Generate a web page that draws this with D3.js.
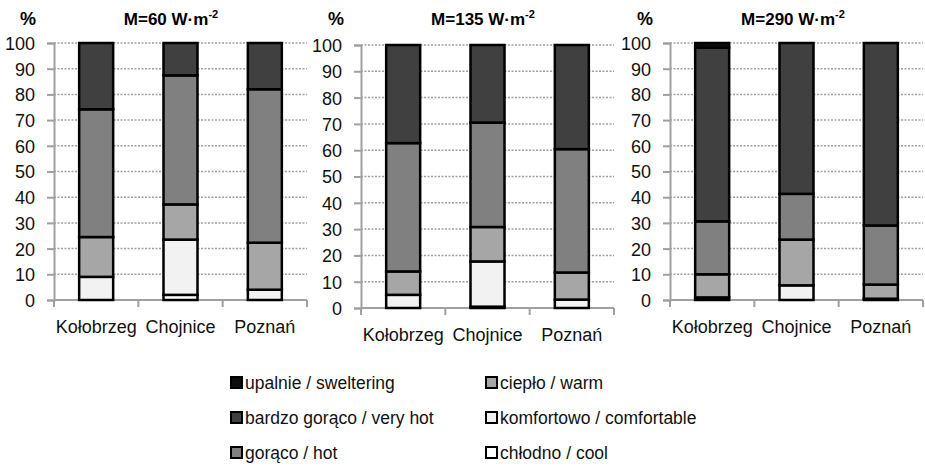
<!DOCTYPE html>
<html>
<head>
<meta charset="utf-8">
<title>Thermal sensation classes</title>
<script src="https://cdnjs.cloudflare.com/ajax/libs/d3/7.8.5/d3.min.js"></script>
<style>
  body { margin: 0; background: #fff; }
  svg { display: block; font-family: "Liberation Sans", Arial, sans-serif; }
</style>
</head>
<body>
<svg id="chart" width="925" height="470"></svg>
<script>
// stations (x categories)
var categories = ['Kołobrzeg', 'Chojnice', 'Poznań'];
// metabolic rate of each panel
var panelTitles = ['60', '135', '290'];
var yTicks = [0, 10, 20, 30, 40, 50, 60, 70, 80, 90, 100];

// share of each class in %, [panel][station], bottom to top
var cool        = [[0, 2, 0],        [0, 0.5, 0],        [0, 0, 0]];
var comfortable = [[9, 21.5, 4],     [5, 17.2, 3.2],     [1, 5.7, 0.5]];
var warm        = [[15.5, 13.7, 18.3], [8.9, 13.1, 10.3], [9, 17.8, 5.5]];
var hot         = [[49.7, 50.2, 59.7], [48.8, 39.7, 46.9], [20.6, 17.8, 23]];
var veryHot     = [[25.8, 12.6, 18], [37.3, 29.5, 39.6], [67.6, 58.7, 71]];
var sweltering  = [[0, 0, 0],        [0, 0, 0],          [1.8, 0, 0]];

var seriesKeys = ['cool', 'comfortable', 'warm', 'hot', 'veryHot', 'sweltering'];
var seriesData = { cool: cool, comfortable: comfortable, warm: warm, hot: hot, veryHot: veryHot, sweltering: sweltering };
var seriesLabels = {
    sweltering: 'upalnie / sweltering',
    veryHot: 'bardzo gorąco / very hot',
    hot: 'gorąco / hot',
    warm: 'ciepło / warm',
    comfortable: 'komfortowo / comfortable',
    cool: 'chłodno / cool'
};
var colour = d3.scaleOrdinal()
    .domain(seriesKeys)
    .range(['#ffffff', '#f2f2f2', '#a6a6a6', '#808080', '#404040', '#0d0d0d']);

var svg = d3.select('#chart');

// plot area of every panel
var panels = [
    { left: 54,  right: 307, bottom: 300, top: 43, titleX: 171, pctX: 28 },
    { left: 361, right: 614, bottom: 308, top: 45, titleX: 483, pctX: 336 },
    { left: 670, right: 923, bottom: 300, top: 43, titleX: 793, pctX: 645 }
];

panels.forEach(function (p, pi) {
    var g = svg.append('g');

    var x = d3.scaleBand().domain(categories).range([p.left, p.right]).paddingInner(0).paddingOuter(0);
    var y = d3.scaleLinear().domain([0, 100]).range([p.bottom, p.top]);
    var barW = 34;

    // dotted grid
    g.selectAll('line.grid').data(yTicks.slice(1)).enter().append('line')
        .attr('x1', p.left).attr('x2', p.right)
        .attr('y1', function (d) { return y(d); })
        .attr('y2', function (d) { return y(d); })
        .attr('stroke', '#a0a0a0')
        .attr('stroke-width', 1.5)
        .attr('stroke-dasharray', '2,1.5');

    // y axis
    var yAxis = g.append('g')
        .attr('transform', 'translate(' + p.left + ',0)')
        .call(d3.axisLeft(y).tickValues(yTicks).tickSize(7).tickPadding(12));
    yAxis.select('.domain').attr('stroke', '#a0a0a0').attr('stroke-width', 2);
    yAxis.selectAll('.tick line').attr('stroke', '#a0a0a0').attr('stroke-width', 2);
    yAxis.selectAll('.tick text')
        .attr('font-size', 18).attr('fill', '#111')
        .attr('font-family', '"Liberation Sans", Arial, sans-serif')
        .attr('dy', '0.36em');

    // x axis with ticks on the category boundaries
    var xb = g.append('g');
    xb.append('line')
        .attr('x1', p.left).attr('x2', p.right)
        .attr('y1', p.bottom).attr('y2', p.bottom)
        .attr('stroke', '#a0a0a0').attr('stroke-width', 2);
    var bounds = categories.map(function (c) { return x(c); }).concat([p.right]);
    xb.selectAll('line.bt').data(bounds).enter().append('line')
        .attr('x1', function (d) { return d; }).attr('x2', function (d) { return d; })
        .attr('y1', p.bottom).attr('y2', p.bottom + 7)
        .attr('stroke', '#a0a0a0').attr('stroke-width', 2);
    xb.selectAll('text').data(categories).enter().append('text')
        .attr('x', function (d) { return x(d) + x.bandwidth() / 2; })
        .attr('y', p.bottom + 33)
        .attr('text-anchor', 'middle')
        .attr('font-size', 18)
        .attr('fill', '#111')
        .text(function (d) { return d; });

    // stacked bars
    var rows = categories.map(function (c, ci) {
        var r = { city: c };
        seriesKeys.forEach(function (k) { r[k] = seriesData[k][pi][ci]; });
        return r;
    });
    var stacked = d3.stack().keys(seriesKeys)(rows);

    var layers = g.selectAll('g.layer').data(stacked).enter().append('g')
        .attr('fill', function (d) { return colour(d.key); });
    layers.selectAll('rect')
        .data(function (d) { return d.filter(function (s) { return s[1] - s[0] > 0; }); })
        .enter().append('rect')
        .attr('x', function (d) { return x(d.data.city) + (x.bandwidth() - barW) / 2; })
        .attr('y', function (d) { return y(d[1]); })
        .attr('width', barW)
        .attr('height', function (d) { return y(d[0]) - y(d[1]); })
        .attr('stroke', '#000')
        .attr('stroke-width', 2.5);

    // title and unit
    var t = g.append('text')
        .attr('x', p.titleX).attr('y', 25)
        .attr('text-anchor', 'middle')
        .attr('font-size', 17).attr('font-weight', 'bold')
        .text('M=' + panelTitles[pi] + ' W·m');
    t.append('tspan').attr('font-size', 11).attr('dy', -7).text('-2');

    g.append('text')
        .attr('x', p.pctX).attr('y', 25)
        .attr('text-anchor', 'middle')
        .attr('font-size', 18).attr('font-weight', 'bold')
        .text('%');
});

// legend, two columns
var legendOrder = ['sweltering', 'veryHot', 'hot', 'warm', 'comfortable', 'cool'];
var legend = svg.append('g');
legendOrder.forEach(function (k, i) {
    var col = Math.floor(i / 3), row = i % 3;
    var lx = col === 0 ? 231 : 486;
    var ly = 383 + row * 35;
    legend.append('rect')
        .attr('x', lx).attr('y', ly - 6)
        .attr('width', 11).attr('height', 11)
        .attr('fill', colour(k))
        .attr('stroke', '#000').attr('stroke-width', 2);
    legend.append('text')
        .attr('x', lx + 14).attr('y', ly + 6)
        .attr('font-size', 17.5).attr('fill', '#111')
        .text(seriesLabels[k]);
});
</script>
</body>
</html>
